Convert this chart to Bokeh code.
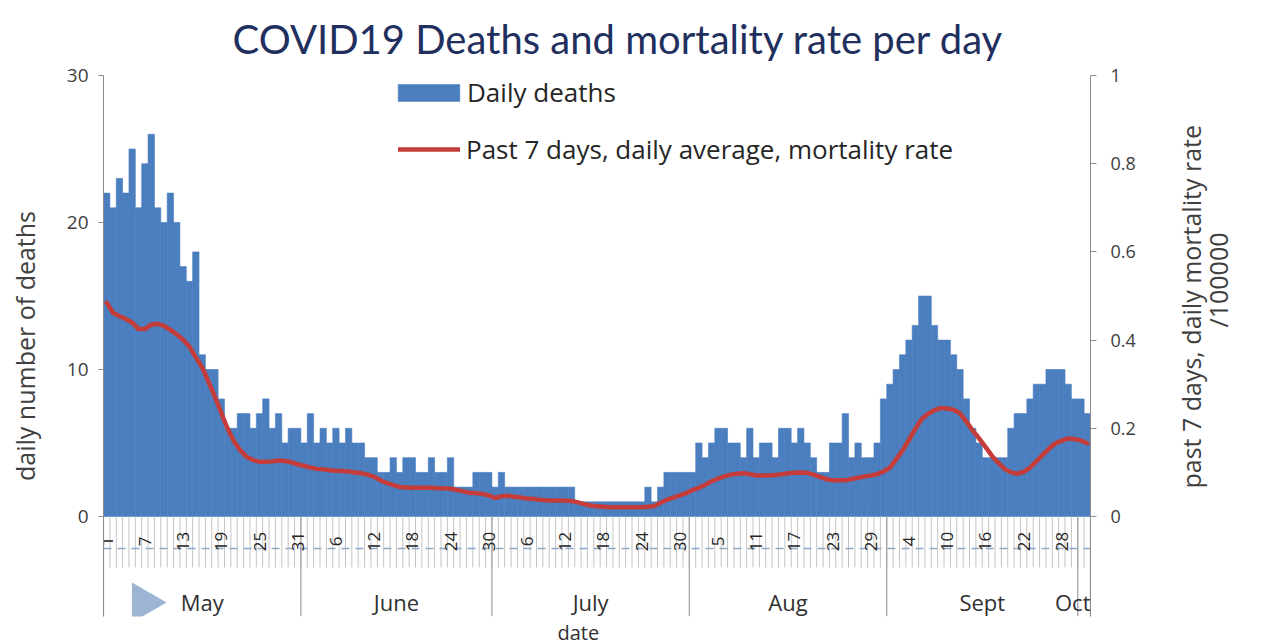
import math
import pandas as pd
from bokeh.plotting import figure
from bokeh.layouts import row
from bokeh.models import (Range1d, LinearAxis, FixedTicker, NumeralTickFormatter,
                          Legend, LegendItem, Title)
from bokeh.core.properties import value
from bokeh.embed import file_html
from bokeh.resources import INLINE

# ---------------- data ----------------
start_date = "2020-05-01"
daily_deaths = [22, 21, 23, 22, 25, 21, 24, 26, 21, 20, 22, 20, 17, 16, 18, 11, 10, 10, 8, 6, 6, 7, 7, 6, 7,
                8, 6, 7, 5, 6, 6, 5, 7, 5, 6, 5, 6, 5, 6, 5, 5,
                4, 4, 3, 3, 4, 3, 4, 4, 3, 3, 4, 3, 3, 4, 2, 2, 2, 3, 3, 3, 2, 3,
                2, 2, 2, 2, 2, 2, 2, 2, 2, 2, 2,
                1, 1, 1, 1, 1, 1, 1, 1, 1, 1, 1,
                2, 1, 2, 3, 3, 3, 3, 3,
                5, 4, 5, 6, 6, 5, 5, 4, 6, 4, 5, 5, 4, 6, 6, 5, 6, 5, 4, 3, 3, 5, 5, 7, 4, 5, 4, 4, 5,
                8, 9, 10, 11, 12, 13, 15, 15, 13, 12, 12, 11, 10, 8, 6, 5, 4, 4, 4, 4, 6, 7, 7, 8, 9, 9,
                10, 10, 10, 9, 8, 8, 7]
mortality_rate = [0.485, 0.462, 0.454, 0.448, 0.440, 0.425, 0.425, 0.435, 0.437, 0.432,
                  0.423, 0.413, 0.401, 0.385, 0.361, 0.338, 0.305, 0.271, 0.235, 0.199,
                  0.170, 0.150, 0.135, 0.128, 0.124, 0.124, 0.125, 0.127, 0.126, 0.123,
                  0.118, 0.115, 0.111, 0.108, 0.107, 0.105, 0.104, 0.103, 0.102, 0.100,
                  0.098, 0.095, 0.090, 0.082, 0.076, 0.071, 0.067, 0.066, 0.065, 0.065,
                  0.065, 0.065, 0.064, 0.064, 0.063, 0.060, 0.057, 0.054, 0.053, 0.051,
                  0.048, 0.042, 0.046, 0.047, 0.045, 0.043, 0.041, 0.040, 0.038, 0.037,
                  0.036, 0.036, 0.036, 0.035, 0.032, 0.028, 0.025, 0.023, 0.022, 0.021,
                  0.021, 0.021, 0.021, 0.021, 0.021, 0.022, 0.024, 0.031, 0.038, 0.043,
                  0.048, 0.053, 0.060, 0.065, 0.072, 0.080, 0.086, 0.091, 0.095, 0.097,
                  0.098, 0.096, 0.093, 0.093, 0.093, 0.094, 0.096, 0.098, 0.099, 0.100,
                  0.099, 0.095, 0.090, 0.085, 0.082, 0.082, 0.082, 0.085, 0.088, 0.091,
                  0.093, 0.096, 0.102, 0.111, 0.130, 0.150, 0.174, 0.199, 0.221, 0.233,
                  0.241, 0.246, 0.245, 0.242, 0.234, 0.215, 0.195, 0.177, 0.158, 0.138,
                  0.122, 0.108, 0.100, 0.097, 0.101, 0.111, 0.125, 0.140, 0.154, 0.166,
                  0.172, 0.177, 0.176, 0.172, 0.166]
tick_labels = ["1", "7", "13", "19", "25", "31", "6", "12", "18", "24", "30",
               "6", "12", "18", "24", "30", "5", "11", "17", "23", "29",
               "4", "10", "16", "22", "28"]
tick_step = 6
months = ["May", "June", "July", "Aug", "Sept", "Oct"]
month_lengths = [31, 30, 31, 31, 30, 2]
left_ticks = [0, 10, 20, 30]
right_ticks = [0, 0.2, 0.4, 0.6, 0.8, 1]

title_text = "COVID19 Deaths and mortality rate per day"
left_title = "daily number of deaths"
right_title = ["past 7 days, daily mortality rate", "/100000"]
x_title = "date"
bar_label = "Daily deaths"
line_label = "Past 7 days, daily average, mortality rate"

dates = pd.date_range(start_date, periods=len(daily_deaths), freq="D")
n = len(dates)
day_idx = list(range(n))

# ---------------- layout (page pixels; the figures sit at the page origin) ----------------
FRAME_L, FRAME_R = 103, 1090
FRAME_T, ZERO_Y, FRAME_B = 75, 516, 616
MAIN_W, FIG_W, FIG_H = 1160, 1260, 642
x_lo, x_hi = -0.5, n - 0.5
y_max = 30
px_day = (FRAME_R - FRAME_L) / n
px_unit = (ZERO_Y - FRAME_T) / y_max
y_lo = -(FRAME_B - ZERO_Y) / px_unit


def X(px):
    return x_lo + (px - FRAME_L) / px_day


def Y(py):
    return (ZERO_Y - py) / px_unit


BLUE = "#4A7EBF"
RED = "#C43D3A"
AXIS = "#8C8C8C"
TXT = "#404040"
FONT = "Open Sans"

p = figure(frame_width=FRAME_R - FRAME_L, frame_height=FRAME_B - FRAME_T,
           min_border_left=FRAME_L, min_border_right=MAIN_W - FRAME_R,
           min_border_top=FRAME_T, min_border_bottom=FIG_H - FRAME_B,
           x_range=Range1d(x_lo, x_hi), y_range=Range1d(y_lo, y_max),
           x_axis_location=None, y_axis_location="left",
           output_backend="svg", toolbar_location=None, tools="")
p.extra_y_ranges = {"rate": Range1d(y_lo / y_max, 1)}
p.outline_line_color = None
p.xgrid.visible = False
p.ygrid.visible = False
p.background_fill_color = "white"
p.border_fill_color = "white"

# title (above the frame)
p.title.text = title_text
p.title.align = "left"
p.title.offset = 232 - FRAME_L
p.title.standoff = 25
p.title.text_font = "Lato"
p.title.text_font_size = "40px"
p.title.text_font_style = "normal"
p.title.text_color = "#1F2F5E"

# left axis
ya = p.yaxis[0]
ya.ticker = FixedTicker(ticks=left_ticks, minor_ticks=[])
ya.axis_line_color = AXIS
ya.major_tick_line_color = AXIS
ya.major_tick_out = 5
ya.major_tick_in = 0
ya.minor_tick_out = 0
ya.major_label_standoff = 10
ya.major_label_text_font = FONT
ya.major_label_text_font_size = "19px"
ya.major_label_text_color = TXT
ya.axis_label = left_title
ya.axis_label_standoff = 22
ya.axis_label_text_font = FONT
ya.axis_label_text_font_size = "25px"
ya.axis_label_text_font_style = "normal"
ya.axis_label_text_color = TXT

# right axis
ra = LinearAxis(y_range_name="rate", ticker=FixedTicker(ticks=right_ticks, minor_ticks=[]),
                formatter=NumeralTickFormatter(format="0.[0]"))
ra.axis_line_color = AXIS
ra.major_tick_line_color = AXIS
ra.major_tick_out = 6
ra.major_tick_in = 0
ra.minor_tick_out = 0
ra.major_label_standoff = 14
ra.major_label_text_font = FONT
ra.major_label_text_font_size = "18px"
ra.major_label_text_color = TXT
p.add_layout(ra, "right")

# "date" title under the category band
p.add_layout(Title(text=x_title, align="left", offset=557 - FRAME_L,
                   standoff=0, text_font=FONT, text_font_size="20px", text_font_style="normal",
                   text_color="#303030"), "below")

# bars and line
bars = p.vbar(x=day_idx, top=daily_deaths, bottom=0, width=1.0,
              fill_color=BLUE, line_color=BLUE, line_width=0.6)
rate_line = p.line(x=day_idx, y=mortality_rate, y_range_name="rate",
                   line_color=RED, line_width=4.5, line_join="round", line_cap="round")

# category band below the plot
bounds = [d - 0.5 for d in day_idx] + [n - 0.5]
hatch_bottom = Y(567)
p.segment(x0=bounds, y0=[0] * len(bounds), x1=bounds, y1=[hatch_bottom] * len(bounds),
          line_color="#C4C4C4", line_width=1)

month_bounds = [x_lo]
for m in month_lengths:
    month_bounds.append(month_bounds[-1] + m)
p.segment(x0=month_bounds, y0=[0] * len(month_bounds), x1=month_bounds,
          y1=[y_lo] * len(month_bounds), line_color="#A0A0A0", line_width=1.2)

p.segment(x0=[x_lo], y0=[Y(548)], x1=[x_hi], y1=[Y(548)],
          line_color="#8FA8C6", line_width=1.5, line_dash="8 6")

tick_days = [i * tick_step for i in range(len(tick_labels))]
p.text(x=tick_days, y=[Y(541)] * len(tick_days), text=tick_labels, angle=math.pi / 2,
       text_align="center", text_baseline="middle", text_font=value(FONT),
       text_font_size="17px", text_color="#262626")

month_mid = [(month_bounds[i] + month_bounds[i + 1]) / 2 for i in range(len(months) - 1)]
p.text(x=month_mid, y=[Y(601)] * len(month_mid), text=months[:-1], text_align="center",
       text_baseline="middle", text_font=value(FONT), text_font_size="22px", text_color="#303030")
# the last (2-day) month label is right-aligned at the end of the axis so it stays visible
p.text(x=[month_bounds[-1]], y=[Y(601)], text=months[-1:], text_align="right",
       text_baseline="middle", text_font=value(FONT), text_font_size="22px", text_color="#303030")

p.scatter(x=[X(143)], y=[Y(602)], marker="triangle", size=40, angle=-math.pi / 2,
          fill_color="#9DB4D2", line_color=None)

# legends
lg1 = Legend(items=[LegendItem(label=bar_label, renderers=[bars])],
             location=(390 - FRAME_L, FRAME_B - 110), glyph_width=77, glyph_height=21,
             label_standoff=0, padding=0, margin=0, spacing=0, border_line_color=None,
             background_fill_alpha=0, label_text_font=FONT, label_text_font_size="26px",
             label_text_color="#262626")
lg2 = Legend(items=[LegendItem(label=line_label, renderers=[rate_line])],
             location=(398 - FRAME_L, FRAME_B - 167), glyph_width=62, glyph_height=20,
             label_standoff=6, padding=0, margin=0, spacing=0, border_line_color=None,
             background_fill_alpha=0, label_text_font=FONT, label_text_font_size="26px",
             label_text_color="#262626")
p.add_layout(lg1)
p.add_layout(lg2)

# ---------------- right-hand title strip (pixel coordinates) ----------------
side = figure(width=FIG_W - MAIN_W, height=FIG_H, x_range=Range1d(MAIN_W, FIG_W),
              y_range=Range1d(FIG_H, 0), min_border=0, min_border_left=0, min_border_right=0,
              min_border_top=0, min_border_bottom=0, x_axis_location=None, y_axis_location=None,
              output_backend="svg", toolbar_location=None, tools="")
side.outline_line_color = None
side.xgrid.visible = False
side.ygrid.visible = False
side.border_fill_color = "white"
side.text(x=[1190, 1217], y=[276, 244], text=right_title, angle=math.pi / 2,
          text_align="center", text_baseline="middle", text_font=value(FONT),
          text_font_size="25px", text_color=TXT)

layout = row(p, side, spacing=0)
open("out.html", "w").write(file_html(layout, INLINE))
